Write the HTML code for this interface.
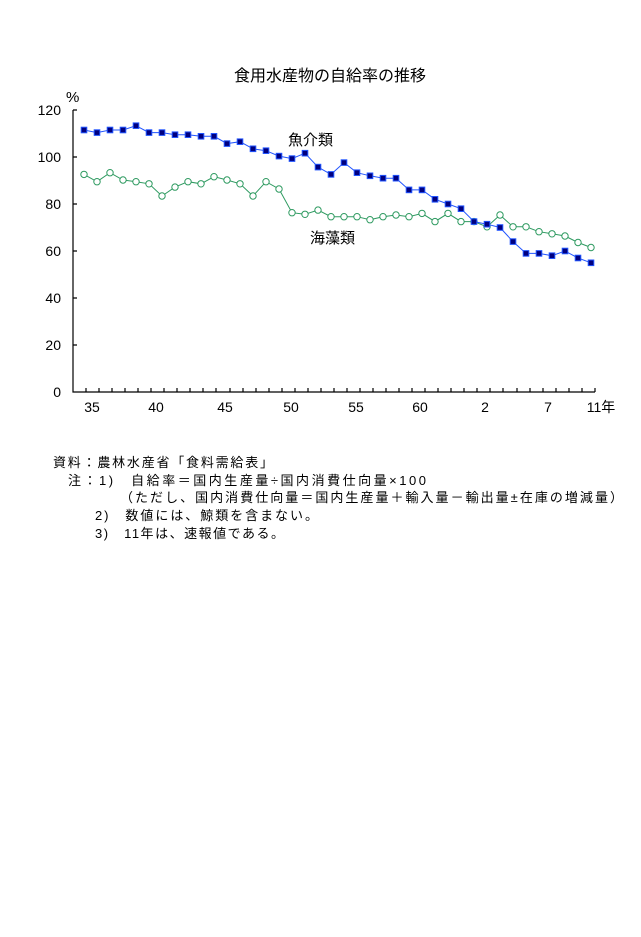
<!DOCTYPE html>
<html><head><meta charset="utf-8"><style>
body{margin:0;background:#fff;}
svg text{font-family:"Liberation Sans","Noto Sans CJK JP",sans-serif;fill:#000;}
</style></head><body>
<svg width="641" height="932" xmlns="http://www.w3.org/2000/svg">
<defs>
<marker id="sq" markerUnits="userSpaceOnUse" markerWidth="8" markerHeight="8" refX="4" refY="4"><rect x="1.2" y="1.2" width="5.6" height="5.6" fill="#000080" stroke="#2255ff" stroke-width="1"/></marker>
<marker id="ci" markerUnits="userSpaceOnUse" markerWidth="10" markerHeight="10" refX="5" refY="5"><circle cx="5" cy="5" r="3.2" fill="#fff" stroke="#2e9a60" stroke-width="1"/></marker>
</defs>
<text x="330" y="81" font-size="16" text-anchor="middle">食用水産物の自給率の推移</text>
<text x="66" y="102" font-size="15">%</text>
<g font-size="14" text-anchor="end">
<text x="61" y="115">120</text><text x="61" y="162">100</text><text x="61" y="209">80</text><text x="61" y="256">60</text><text x="61" y="303">40</text><text x="61" y="350">20</text><text x="61" y="397">0</text>
</g>
<g stroke="#000" stroke-width="1.2" fill="none">
<path d="M73 110V392H595"/>
<path d="M73 110h4M73 157h4M73 204h4M73 251h4M73 298h4M73 345h4"/>
<path d="M86 392v-4M99 392v-4M112 392v-4M125 392v-4M138 392v-4M151 392v-4M164 392v-4M177 392v-4M190 392v-4M203 392v-4M216 392v-4M230 392v-4M243 392v-4M256 392v-4M269 392v-4M282 392v-4M295 392v-4M308 392v-4M321 392v-4M334 392v-4M347 392v-4M360 392v-4M373 392v-4M386 392v-4M399 392v-4M412 392v-4M425 392v-4M438 392v-4M451 392v-4M464 392v-4M477 392v-4M490 392v-4M503 392v-4M517 392v-4M530 392v-4M543 392v-4M556 392v-4M569 392v-4M582 392v-4M595 392v-4"/>
</g>
<g font-size="14" text-anchor="middle">
<text x="92" y="412">35</text><text x="156" y="412">40</text><text x="225" y="412">45</text><text x="291" y="412">50</text><text x="356" y="412">55</text><text x="420" y="412">60</text><text x="485" y="412">2</text><text x="548" y="412">7</text><text x="601" y="412">11年</text>
</g>
<polyline fill="none" stroke="#2e9a60" stroke-width="1" marker-start="url(#ci)" marker-mid="url(#ci)" marker-end="url(#ci)" points="84,174.4 97,181.7 110,172.7 123,180 136,181.7 149,183.8 162,196 175,187.1 188,181.7 201,183.8 214,176.7 227,180 240,183.8 253,196 266,181.7 279,189 292,212.7 305,214.3 318,210.1 331,216.7 344,216.7 357,216.7 370,219.7 383,216.7 396,215 409,216.7 422,213.4 435,221.6 448,213.4 461,221.6 474,221.6 487,226.8 500,215 513,226.8 526,226.8 539,231.7 552,233.8 565,236 578,242.5 591,247.5"/>
<polyline fill="none" stroke="#2255ff" stroke-width="1" marker-start="url(#sq)" marker-mid="url(#sq)" marker-end="url(#sq)" points="84,130 97,132.6 110,130 123,130 136,125.7 149,132.6 162,132.6 175,134.7 188,134.7 201,136.3 214,136.3 227,143.6 240,141.7 253,148.8 266,150.7 279,156.1 292,158.6 305,153.2 318,167.1 331,174.4 344,162.6 357,172.7 370,175.8 383,178.2 396,178.2 409,189.9 422,189.9 435,199.3 448,204 461,208.7 474,221.6 487,224.2 500,227.5 513,241.6 526,253.4 539,253.4 552,255.7 565,251 578,258 591,262.8"/>
<text x="288" y="145" font-size="15">魚介類</text>
<text x="310" y="243" font-size="15">海藻類</text>
<g font-size="13">
<text x="53" y="467" textLength="220" lengthAdjust="spacing">資料：農林水産省「食料需給表」</text>
<text x="68" y="485" textLength="358" lengthAdjust="spacing">注：1)　自給率＝国内生産量÷国内消費仕向量×100</text>
<text x="120" y="502" textLength="503" lengthAdjust="spacing">（ただし、国内消費仕向量＝国内生産量＋輸入量－輸出量±在庫の増減量）</text>
<text x="95" y="520" textLength="223" lengthAdjust="spacing">2)　数値には、鯨類を含まない。</text>
<text x="95" y="538" textLength="189" lengthAdjust="spacing">3)　11年は、速報値である。</text>
</g>
</svg>
</body></html>
